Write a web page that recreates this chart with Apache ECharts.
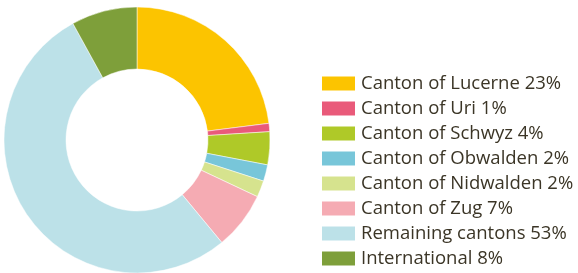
<!DOCTYPE html>
<html lang="en">
<head>
    <meta charset="UTF-8">
    <title>Cantons</title>
    <script src="https://cdn.jsdelivr.net/npm/echarts@6/dist/echarts.min.js"></script>
    <style>
        html, body { margin: 0; padding: 0; background: #fff; }
        #charts { width: 578px; height: 273px; }
    </style>
</head>
<body>
<div id="charts"></div>
<script>
    // 数据
    var names = ['Canton of Lucerne', 'Canton of Uri', 'Canton of Schwyz', 'Canton of Obwalden',
        'Canton of Nidwalden', 'Canton of Zug', 'Remaining cantons', 'International'];
    var values = [23, 1, 4, 2, 2, 7, 53, 8];
    var colors = ['#fcc400', '#e95a7a', '#afc928', '#78c6d9', '#d6e38e', '#f5abb3', '#bce1e8', '#7e9f3a'];

    var pieData = names.map(function (n, i) {
        return {name: n, value: values[i]};
    });

    var myChart = echarts.init(document.getElementById('charts'));
    myChart.setOption({
        animation: false,
        color: colors,
        legend: {
            orient: 'vertical',
            left: 320,
            top: 74,
            height: 260,
            padding: 0,
            itemWidth: 35,
            itemHeight: 16,
            itemGap: 6,
            icon: 'rect',
            selectedMode: false,
            formatter: function (name) {
                return name + ' ' + values[names.indexOf(name)] + '%';
            },
            textStyle: {
                fontFamily: 'Open Sans',
                fontSize: 18.5,
                lineHeight: 19,
                color: '#3b3526'
            }
        },
        series: [{
            type: 'pie',
            center: [137, 140],
            radius: [71, 133],
            startAngle: 90,
            clockwise: true,
            label: {show: false},
            labelLine: {show: false},
            emphasis: {disabled: true},
            itemStyle: {borderColor: '#fff', borderWidth: 0.5},
            data: pieData
        }]
    });
</script>
</body>
</html>
